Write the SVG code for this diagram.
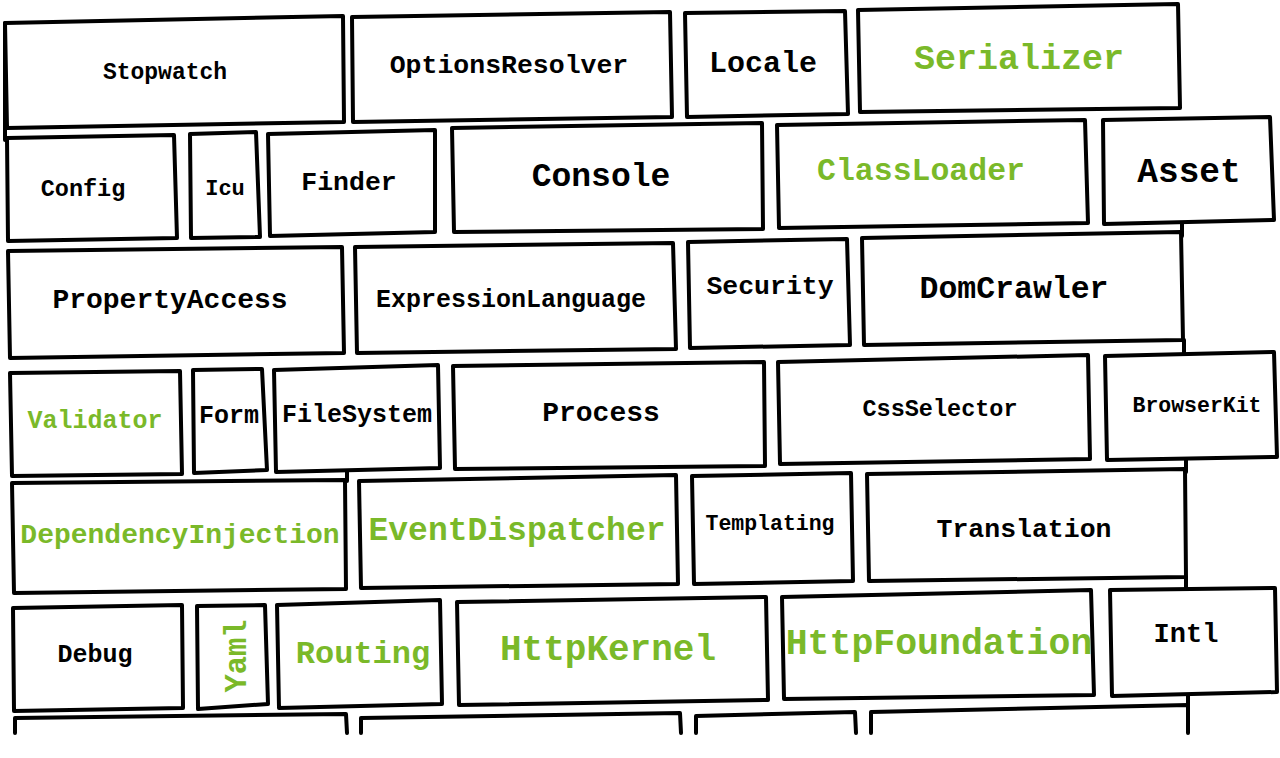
<svg xmlns="http://www.w3.org/2000/svg" width="1280" height="758" viewBox="0 0 1280 758">
<style>
.b{fill:#fff;stroke:#000;stroke-width:4;stroke-linejoin:round;stroke-linecap:round}
.l{fill:none;stroke:#000;stroke-width:4;stroke-linecap:round;stroke-linejoin:round}
text{font-family:"Liberation Mono","Courier New",monospace;font-weight:bold;text-anchor:middle;fill:#000}
.g{fill:#7ab929}
</style>
<rect width="1280" height="758" fill="#fff"/>
<g id="mortar">
<path class="l" d="M1182 222 V236 M1184 340 V354 M1186 457 V472 M1186 577 V590 M1188 692 V706 M347 470 V481 M5 23 V140"/>
<path class="l" d="M15 733 V718 L346 714 L347 733 M361 733 V718 L680 713 L681 733 M696 733 V716 L855 712 L856 733 M871 733 V712 L1188 705 V733"/>
</g>
<g id="stopwatch"><path class="b" d="M5 23 L343 16 L344 122 L7 128 Z"/><text x="165" y="79" font-size="23">Stopwatch</text></g>
<g id="optionsresolver"><path class="b" d="M352 17 L670 12 L672 117 L353 122 Z"/><text x="509" y="73" font-size="26.5">OptionsResolver</text></g>
<g id="locale"><path class="b" d="M685 13 L845 11 L848 114 L687 117 Z"/><text x="763" y="72" font-size="30">Locale</text></g>
<g id="serializer"><path class="b" d="M858 10 L1178 4 L1180 108 L860 112 Z"/><text class="g" x="1019" y="69" font-size="35">Serializer</text></g>
<g id="config"><path class="b" d="M7 138 L174 135 L177 238 L8 241 Z"/><text x="83" y="196" font-size="23.5">Config</text></g>
<g id="icu"><path class="b" d="M190 134 L256 132 L260 237 L191 238 Z"/><text x="225" y="195" font-size="22">Icu</text></g>
<g id="finder"><path class="b" d="M268 134 L435 130 L435 232 L270 236 Z"/><text x="349" y="190" font-size="26.5">Finder</text></g>
<g id="console"><path class="b" d="M452 128 L762 123 L763 229 L454 232 Z"/><text x="601" y="186" font-size="33">Console</text></g>
<g id="classloader"><path class="b" d="M777 125 L1085 120 L1088 223 L779 228 Z"/><text class="g" x="921" y="180" font-size="31.5">ClassLoader</text></g>
<g id="asset"><path class="b" d="M1103 120 L1270 117 L1274 220 L1104 224 Z"/><text x="1189" y="182" font-size="34.5">Asset</text></g>
<g id="propertyaccess"><path class="b" d="M8 251 L342 247 L344 353 L10 358 Z"/><text x="170" y="308" font-size="28">PropertyAccess</text></g>
<g id="expressionlanguage"><path class="b" d="M355 247 L673 243 L676 349 L357 353 Z"/><text x="511" y="307" font-size="25">ExpressionLanguage</text></g>
<g id="security"><path class="b" d="M688 242 L847 239 L850 345 L690 348 Z"/><text x="770" y="294" font-size="26.5">Security</text></g>
<g id="domcrawler"><path class="b" d="M862 238 L1181 232 L1183 340 L864 345 Z"/><text x="1014" y="298" font-size="31.5">DomCrawler</text></g>
<g id="validator"><path class="b" d="M10 373 L180 371 L182 474 L12 476 Z"/><text class="g" x="95" y="428" font-size="25">Validator</text></g>
<g id="form"><path class="b" d="M193 370 L262 369 L267 470 L194 473 Z"/><text x="229" y="423" font-size="25">Form</text></g>
<g id="filesystem"><path class="b" d="M274 370 L438 365 L440 468 L276 472 Z"/><text x="357" y="422" font-size="25">FileSystem</text></g>
<g id="process"><path class="b" d="M453 366 L764 362 L765 466 L455 469 Z"/><text x="601" y="421" font-size="28">Process</text></g>
<g id="cssselector"><path class="b" d="M778 362 L1088 355 L1090 459 L780 464 Z"/><text x="940" y="416" font-size="23.5">CssSelector</text></g>
<g id="browserkit"><path class="b" d="M1105 356 L1274 352 L1277 457 L1107 460 Z"/><text x="1197" y="412" font-size="21.5">BrowserKit</text></g>
<g id="dependencyinjection"><path class="b" d="M12 483 L345 480 L346 589 L14 593 Z"/><text class="g" x="180" y="543" font-size="28">DependencyInjection</text></g>
<g id="eventdispatcher"><path class="b" d="M359 481 L676 475 L678 584 L361 588 Z"/><text class="g" x="517" y="540" font-size="33">EventDispatcher</text></g>
<g id="templating"><path class="b" d="M692 476 L851 473 L853 581 L694 584 Z"/><text x="770" y="530" font-size="21.5">Templating</text></g>
<g id="translation"><path class="b" d="M867 474 L1185 469 L1186 577 L869 581 Z"/><text x="1024" y="537" font-size="26.5">Translation</text></g>
<g id="debug"><path class="b" d="M13 608 L182 605 L183 708 L14 711 Z"/><text x="95" y="662" font-size="25">Debug</text></g>
<g id="yaml"><path class="b" d="M197 606 L265 605 L268 704 L198 709 Z"/><text class="g" x="246" y="656" font-size="30.5" transform="rotate(-90 246 656)">Yaml</text></g>
<g id="routing"><path class="b" d="M277 605 L440 600 L442 704 L279 708 Z"/><text class="g" x="363" y="663" font-size="32">Routing</text></g>
<g id="httpkernel"><path class="b" d="M457 602 L766 597 L768 700 L459 705 Z"/><text class="g" x="608" y="660" font-size="36">HttpKernel</text></g>
<g id="httpfoundation"><path class="b" d="M782 597 L1091 590 L1094 695 L784 699 Z"/><text class="g" x="939" y="654" font-size="36.5">HttpFoundation</text></g>
<g id="intl"><path class="b" d="M1110 590 L1275 588 L1277 692 L1112 696 Z"/><text x="1186" y="642" font-size="27">Intl</text></g>
</svg>
